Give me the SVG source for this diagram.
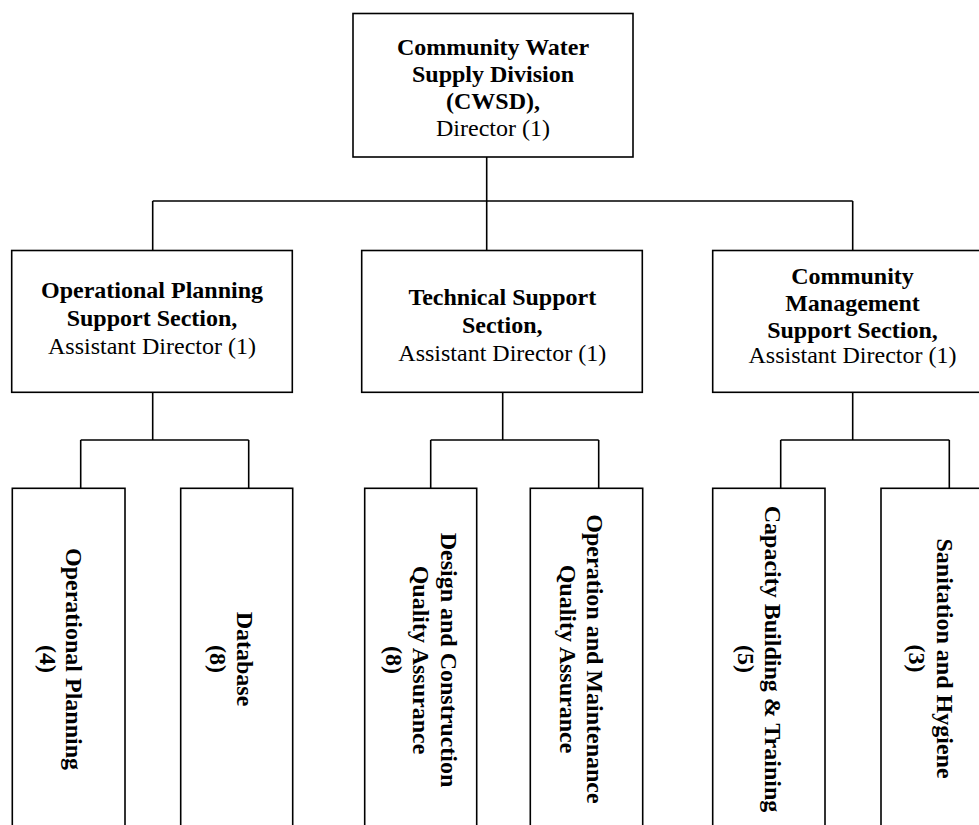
<svg xmlns="http://www.w3.org/2000/svg" width="979" height="825" viewBox="0 0 979 825">
<style>
.box{fill:#fff;stroke:#000;stroke-width:1.6}
.ln{fill:none;stroke:#000;stroke-width:1.6}
text{font-family:"Liberation Serif","Times New Roman",serif;font-size:24px;fill:#000;text-anchor:middle}
.b{font-weight:bold}
</style>
<rect width="979" height="825" fill="#fff"/>
<g id="connectors">
<path class="ln" d="M486.7,157 V201 M152.7,201 H852.7 M152.7,201 V250.5 M486.7,201 V250.5 M852.7,201 V250.5"/>
<path class="ln" d="M152.7,392.3 V440 M80.7,440 H248.7 M80.7,440 V488.3 M248.7,440 V488.3"/>
<path class="ln" d="M502.7,392.3 V440 M430.7,440 H598.7 M430.7,440 V488.3 M598.7,440 V488.3"/>
<path class="ln" d="M852.7,392.3 V440 M780.7,440 H949.3 M780.7,440 V488.3 M949.3,440 V488.3"/>
</g>
<g id="cwsd">
<rect class="box" x="353" y="13.5" width="280" height="143.5"/>
<text class="b" x="493" y="54.5">Community Water</text>
<text class="b" x="493" y="81.5">Supply Division</text>
<text class="b" x="493" y="108.5">(CWSD),</text>
<text x="493" y="135.5">Director (1)</text>
</g>
<g id="ops">
<rect class="box" x="11.7" y="250.5" width="280.6" height="141.8"/>
<text class="b" x="152" y="297.5">Operational Planning</text>
<text class="b" x="152" y="325.5">Support Section,</text>
<text x="152" y="354">Assistant Director (1)</text>
</g>
<g id="tech">
<rect class="box" x="361.7" y="250.5" width="280.6" height="141.8"/>
<text class="b" x="502.3" y="305">Technical Support</text>
<text class="b" x="502.3" y="332.7">Section,</text>
<text x="502.3" y="360.7">Assistant Director (1)</text>
</g>
<g id="comm">
<rect class="box" x="712.7" y="250.5" width="280.6" height="141.8"/>
<text class="b" x="852.5" y="284">Community</text>
<text class="b" x="852.5" y="310.7">Management</text>
<text class="b" x="852.5" y="337.7">Support Section,</text>
<text x="852.5" y="363.3">Assistant Director (1)</text>
</g>
<g id="opplan">
<rect class="box" x="12.3" y="488.3" width="112.7" height="360"/>
<text class="b" transform="translate(66,659) rotate(90)">Operational Planning</text>
<text class="b" transform="translate(40,659) rotate(90)">(4)</text>
</g>
<g id="database">
<rect class="box" x="180.7" y="488.3" width="112" height="360"/>
<text class="b" transform="translate(236.7,659) rotate(90)">Database</text>
<text class="b" transform="translate(209.5,659) rotate(90)">(8)</text>
</g>
<g id="design">
<rect class="box" x="364.7" y="488.3" width="112" height="360"/>
<text class="b" transform="translate(441,660) rotate(90)">Design and Construction</text>
<text class="b" transform="translate(413.3,660) rotate(90)">Quality Assurance</text>
<text class="b" transform="translate(385.5,660) rotate(90)">(8)</text>
</g>
<g id="om">
<rect class="box" x="530.3" y="488.3" width="112.4" height="360"/>
<text class="b" transform="translate(586.7,659) rotate(90)">Operation and Maintenance</text>
<text class="b" transform="translate(560,659) rotate(90)">Quality Assurance</text>
</g>
<g id="capacity">
<rect class="box" x="712.7" y="488.3" width="112.3" height="360"/>
<text class="b" transform="translate(765,659) rotate(90)">Capacity Building &amp; Training</text>
<text class="b" transform="translate(738,659) rotate(90)">(5)</text>
</g>
<g id="sanitation">
<rect class="box" x="881" y="488.3" width="112" height="360"/>
<text class="b" transform="translate(937.3,658.5) rotate(90)">Sanitation and Hygiene</text>
<text class="b" transform="translate(909,658.5) rotate(90)">(3)</text>
</g>
</svg>
